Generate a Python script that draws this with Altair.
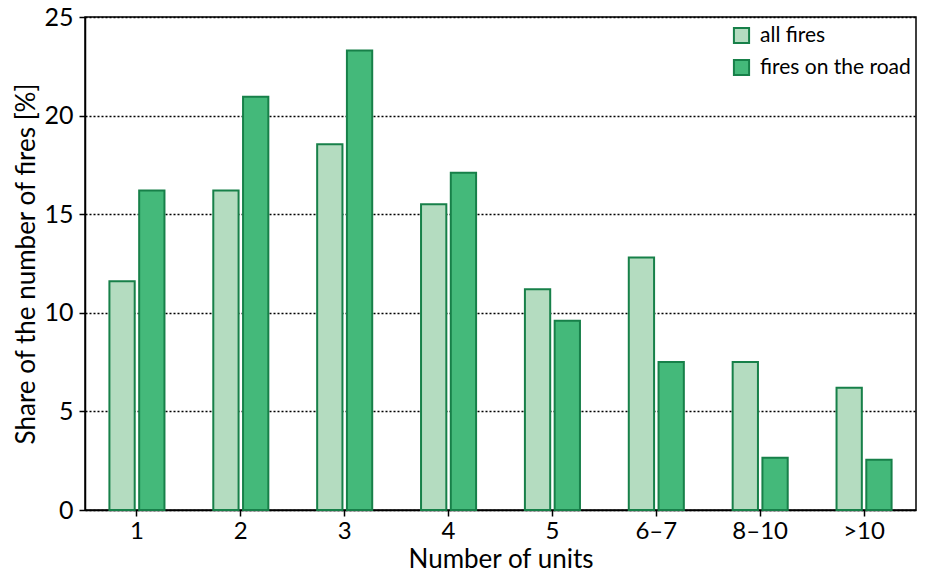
import altair as alt
import pandas as pd

categories = ["1", "2", "3", "4", "5", "6–7", "8–10", ">10"]
all_fires = [11.6, 16.2, 18.55, 15.5, 11.2, 12.8, 7.5, 6.2]
road_fires = [16.2, 20.95, 23.3, 17.1, 9.6, 7.5, 2.65, 2.55]
series = ["all fires", "fires on the road"]

rows = []
for c, a, r in zip(categories, all_fires, road_fires):
    rows.append({"units": c, "series": series[0], "share": a})
    rows.append({"units": c, "series": series[1], "share": r})
df = pd.DataFrame(rows)

FONT = "Lato"

chart = alt.Chart(df).mark_bar(stroke="#178049", strokeWidth=2).encode(
    x=alt.X("units:N", sort=categories, title="Number of units",
            scale=alt.Scale(paddingInner=0.47, paddingOuter=0.235),
            axis=alt.Axis(labelAngle=0, labelFontSize=24, titleFontSize=26,
                          tickSize=6, labelPadding=3, titlePadding=3,
                          domainColor="black", tickColor="black", domainWidth=1.5,
                          tickWidth=1.5, grid=False, labelColor="black", titleColor="black",
                          titleFontWeight="normal")),
    xOffset=alt.XOffset("series:N", sort=series, scale=alt.Scale(paddingInner=0.15)),
    y=alt.Y("share:Q", title="Share of the number of fires [%]",
            scale=alt.Scale(domain=[0, 25], nice=False),
            axis=alt.Axis(values=[0, 5, 10, 15, 20, 25], labelFontSize=25, titleFontSize=26,
                          tickSize=6, labelPadding=6, titlePadding=4,
                          domainColor="black", tickColor="black", domainWidth=1.5,
                          tickWidth=1.5, grid=True, gridColor="black", gridDash=[2, 2],
                          gridWidth=1.5, labelColor="black", titleColor="black",
                          titleFontWeight="normal")),
    color=alt.Color("series:N", sort=series,
                    scale=alt.Scale(domain=series, range=["#b4dcc0", "#44b97a"]),
                    legend=alt.Legend(title=None, orient="none", legendX=646, legendY=8,
                                      symbolType="square", symbolSize=230,
                                      symbolStrokeColor="#178049", symbolStrokeWidth=2,
                                      labelFontSize=21, labelColor="black",
                                      rowPadding=7, labelOffset=8)),
).properties(
    width=831, height=493,
    padding={"left": 77, "top": 9, "right": 2, "bottom": 63},
    autosize=alt.AutoSizeParams(type="none"),
).configure(font=FONT).configure_view(stroke="black", strokeWidth=1.5)

chart.save("out.html", embed_options={"renderer": "svg", "actions": False})
